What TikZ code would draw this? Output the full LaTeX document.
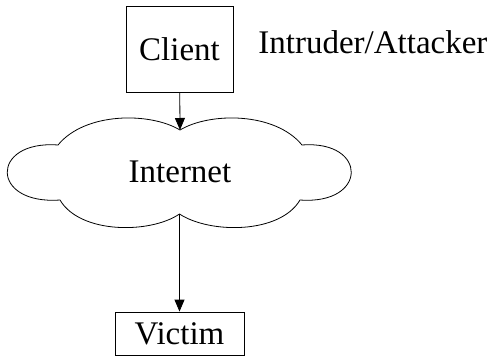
\documentclass[tikz,border=0pt]{standalone}
\usepackage{fontspec}
\setmainfont{Liberation Serif}
\usetikzlibrary{arrows.meta}
\begin{document}
\begin{tikzpicture}[x=1pt, y=-1pt, line width=0.8pt,
        every node/.style={font=\fontsize{33}{40}\selectfont, inner sep=0pt},
        box/.style={draw, rectangle},
        link/.style={-{Triangle[width=10pt,length=12pt]}}]
        \useasboundingbox (0,0) rectangle (488,356);
        \node[box, minimum width=107pt, minimum height=86pt] (client) at (179.5,49) {Client};
        \node[anchor=base west] (intruder) at (258,53.5) {Intruder/Attacker};
        \node (internet) at (180,172) {Internet};
        \node[box, minimum width=129pt, minimum height=43pt] (victim) at (179.5,333.5) {Victim};
        % the cloud
        \coordinate (topnotch) at (180,130);
        \coordinate (botnotch) at (179.5,214);
        \draw (topnotch) .. controls (150,112) and (85,112) .. (58,145)
        .. controls (-10,140) and (-10,205) .. (60,200)
        .. controls (80,234) and (150,234) .. (botnotch)
        .. controls (210,234) and (280,234) .. (300,200)
        .. controls (368,205) and (368,140) .. (302,145)
        .. controls (275,112) and (210,112) .. (topnotch);
        \draw[link] (client) -- (topnotch);
        \draw[link] (botnotch) -- (victim);
    \end{tikzpicture}
\end{document}
